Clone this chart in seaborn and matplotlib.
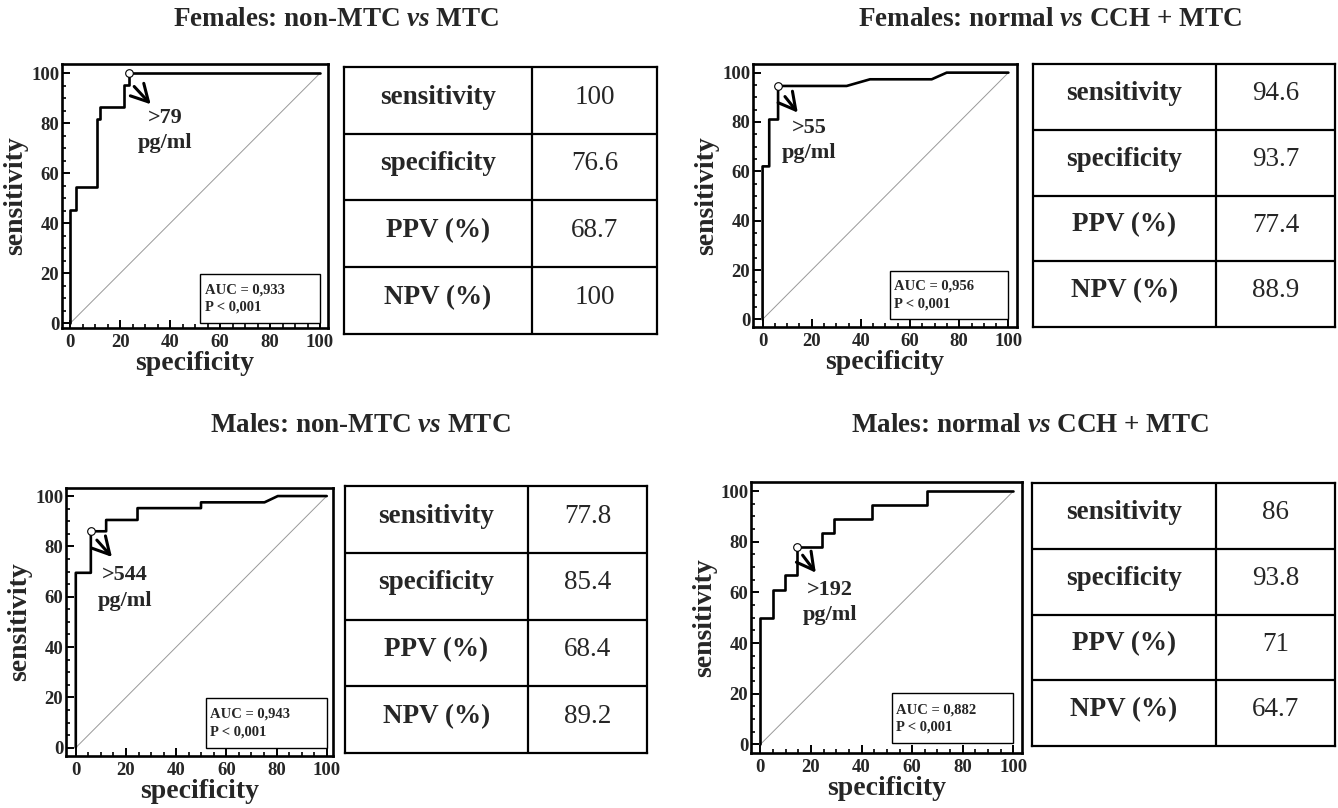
import matplotlib
matplotlib.use("Agg")
import matplotlib.pyplot as plt
import seaborn as sns
import numpy as np
import pandas as pd

# ---------------- data ----------------
titles = [r"Females: non-MTC $\mathit{vs}$ MTC",
          r"Females: normal $\mathit{vs}$ CCH + MTC",
          r"Males: non-MTC $\mathit{vs}$ MTC",
          r"Males: normal $\mathit{vs}$ CCH + MTC"]

# ROC vertices: x = 100 - specificity, y = sensitivity
roc1_x = [0, 0, 2.5, 2.5, 10.8, 10.8, 12.1, 12.1, 21.5, 21.5, 23.4, 23.4, 100]
roc1_y = [0, 45.5, 45.5, 54.5, 54.5, 81.8, 81.8, 86.4, 86.4, 95.5, 95.5, 100, 100]

roc2_x = [0, 0, 2.7, 2.7, 6.3, 6.3, 34.2, 43.7, 68.8, 74.9, 100]
roc2_y = [0, 62.0, 62.0, 81.0, 81.0, 94.6, 94.6, 97.3, 97.3, 100, 100]

roc3_x = [0, 0, 6.0, 6.0, 12.1, 12.1, 24.6, 24.6, 49.9, 49.9, 75.2, 80.5, 100]
roc3_y = [0, 69.5, 69.5, 86.0, 86.0, 90.5, 90.5, 95.2, 95.2, 97.5, 97.5, 100, 100]

roc4_x = [0, 0, 4.9, 4.9, 9.9, 9.9, 14.6, 14.6, 24.5, 24.5, 29.1, 29.1, 44.0, 44.0, 66.0, 66.0, 100]
roc4_y = [0, 50.0, 50.0, 61.1, 61.1, 66.7, 66.7, 77.8, 77.8, 83.3, 83.3, 88.9, 88.9, 94.4, 94.4, 100, 100]

roc_x = [roc1_x, roc2_x, roc3_x, roc4_x]
roc_y = [roc1_y, roc2_y, roc3_y, roc4_y]

cut_x = [23.4, 6.3, 6.0, 14.6]
cut_y = [100.0, 94.6, 86.0, 77.8]
cut_labels = [">79\npg/ml", ">55\npg/ml", ">544\npg/ml", ">192\npg/ml"]
auc_labels = ["AUC = 0,933\nP < 0,001", "AUC = 0,956\nP < 0,001",
              "AUC = 0,943\nP < 0,001", "AUC = 0,882\nP < 0,001"]

row_labels = ["sensitivity", "specificity", "PPV (%)", "NPV (%)"]
table_values = [["100", "76.6", "68.7", "100"],
                ["94.6", "93.7", "77.4", "88.9"],
                ["77.8", "85.4", "68.4", "89.2"],
                ["86", "93.8", "71", "64.7"]]

# ---------------- layout (pixels) ----------------
W, H = 1338, 808
roc_boxes = [(62, 328, 64, 328), (753, 1017, 64, 327),
             (66, 333, 488, 756), (751, 1022, 482, 753)]
roc_lims = [((-3.3, 103.2), (-1.9, 103.7)), ((-3.9, 103.5), (-3.1, 103.5)),
            ((-3.9, 102.5), (-3.3, 103.2)), ((-3.7, 103.4), (-3.4, 103.6))]
tab_boxes = [(344, 657, 67, 334), (1033, 1335, 64, 327),
             (345, 647, 486, 753), (1032, 1335, 483, 746)]
tab_div = [0.600, 0.606, 0.606, 0.607]
title_pos = [(336, 19), (1050, 19), (360, 426), (1030, 426)]
arrow_start = [(25.6, 94.7), (9.1, 90.3), (8.4, 82.5), (16.7, 74.7)]
arrow_end = [(32.2, 87.6), (14.3, 83.8), (14.4, 75.8), (21.9, 67.8)]
text_pos = [(38, 77), (19, 72.5), (19.5, 63.5), (27.5, 56)]
auc_box = [(52, 0), (51.8, 0), (51.8, 0), (51.9, 0.4)]


def frac(l, r, t, b):
    return [l / W, 1 - b / H, (r - l) / W, (b - t) / H]


sns.set_theme(style="white")
plt.rcParams["font.family"] = ["Liberation Serif", "DejaVu Serif"]
plt.rcParams["font.weight"] = "bold"
plt.rcParams["mathtext.fontset"] = "custom"
plt.rcParams["mathtext.rm"] = "Liberation Serif:bold"
plt.rcParams["mathtext.it"] = "Liberation Serif:italic:bold"
plt.rcParams["mathtext.bf"] = "Liberation Serif:bold"

fig = plt.figure(figsize=(W / 100, H / 100), dpi=100)
fig.patch.set_facecolor("white")

for i in range(4):
    ax = fig.add_axes(frac(*roc_boxes[i]))
    ax.set_facecolor("white")
    ax.plot([0, 100], [0, 100], color="#999999", lw=0.7, zorder=1)
    df = pd.DataFrame({"x": roc_x[i], "y": roc_y[i]})
    sns.lineplot(data=df, x="x", y="y", sort=False, estimator=None,
                 color="black", lw=1.9, ax=ax, zorder=3)
    ax.plot([cut_x[i]], [cut_y[i]], marker="o", ms=5.5, mfc="white",
            mec="black", mew=0.8, zorder=5)
    ax.annotate("", xy=arrow_end[i], xytext=arrow_start[i],
                arrowprops=dict(arrowstyle="->,head_length=0.55,head_width=0.3",
                                lw=2.2, color="black",
                                mutation_scale=22, shrinkA=0, shrinkB=0))
    ax.text(text_pos[i][0], text_pos[i][1], cut_labels[i], ha="center",
            va="center", fontsize=16, fontweight="bold",
            linespacing=1.35)
    bx, by = auc_box[i]
    ax.add_patch(plt.Rectangle((bx, by), 100 - bx, 19.7, fill=True,
                               facecolor="white", edgecolor="black",
                               lw=1.0, zorder=4))
    ax.text(bx + 1.8, by + 9.8, auc_labels[i], ha="left", va="center",
            fontsize=10.5, fontweight="bold", linespacing=1.45, zorder=6)

    ax.set_xlim(*roc_lims[i][0])
    ax.set_ylim(*roc_lims[i][1])
    ax.set_xticks([0, 20, 40, 60, 80, 100])
    ax.set_yticks([0, 20, 40, 60, 80, 100])
    ax.set_xticks(np.arange(0, 101, 5), minor=True)
    ax.set_yticks(np.arange(0, 101, 5), minor=True)
    ax.tick_params(which="major", direction="in", length=6, width=1.4,
                   color="black", labelsize=13.5, bottom=True, left=True,
                   top=False, right=False)
    ax.tick_params(which="minor", direction="in", length=3, width=1.2,
                   color="black", bottom=True, left=True, top=False,
                   right=False)
    ax.tick_params(axis="x", which="major", pad=4.5)
    ax.tick_params(axis="y", which="major", pad=2)
    for lab in ax.get_xticklabels() + ax.get_yticklabels():
        lab.set_fontweight("bold")
    ax.set_xlabel("specificity", fontsize=20, fontweight="bold", labelpad=0)
    ax.set_ylabel("sensitivity", fontsize=20, fontweight="bold", labelpad=2)
    for s in ax.spines.values():
        s.set_visible(True)
        s.set_color("black")
        s.set_linewidth(1.9)

    # table
    tax = fig.add_axes(frac(*tab_boxes[i]))
    tax.set_xlim(0, 1)
    tax.set_ylim(0, 4)
    tax.set_xticks([])
    tax.set_yticks([])
    for s in tax.spines.values():
        s.set_visible(True)
        s.set_color("black")
        s.set_linewidth(1.6)
    for r in range(1, 4):
        tax.axhline(r, color="black", lw=1.6)
    tax.axvline(tab_div[i], color="black", lw=1.6)
    for r, lab in enumerate(row_labels):
        yc = 4 - r - 0.45
        tax.text(tab_div[i] / 2, yc, lab, ha="center", va="center",
                 fontsize=19.5, fontweight="bold")
        tax.text((1 + tab_div[i]) / 2, yc, table_values[i][r], ha="center",
                 va="center", fontsize=19.5, fontweight="normal")

    fig.text(title_pos[i][0] / W, 1 - title_pos[i][1] / H, titles[i],
             ha="center", va="center", fontsize=19.5, fontweight="bold")

fig.savefig("out.png", dpi=100, facecolor="white")
